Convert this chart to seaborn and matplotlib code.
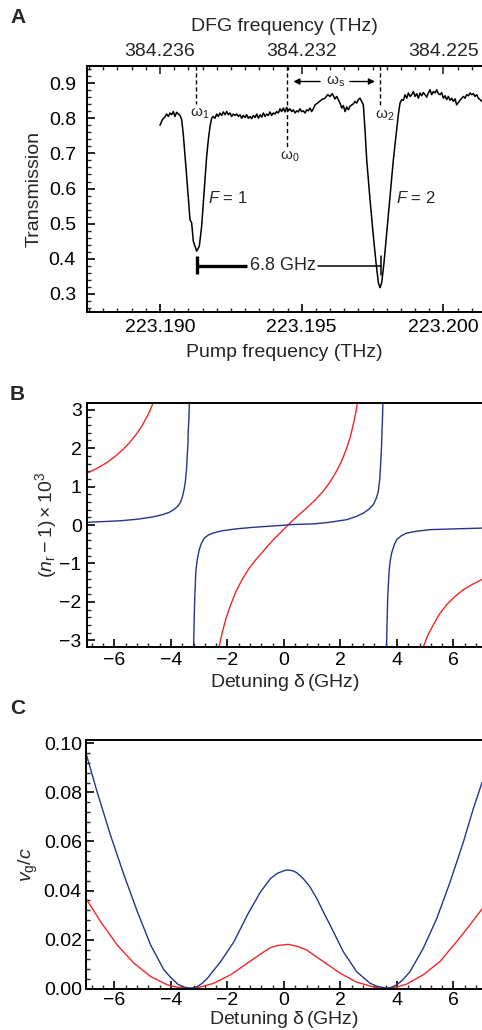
import numpy as np
import pandas as pd
import seaborn as sns
import matplotlib
matplotlib.use("Agg")
import matplotlib.pyplot as plt
from matplotlib.ticker import MultipleLocator, FormatStrFormatter

# %% data
# panel A: pump offset from 223.190 THz (GHz) and measured transmission
pump_offset_ghz = [
    0.000, 0.082, 0.153, 0.235, 0.294, 0.353, 0.412, 0.471, 0.529, 0.588,
    0.647, 0.706, 0.765, 0.823, 0.941, 1.059, 1.117, 1.176, 1.235, 1.294,
    1.388, 1.470, 1.529, 1.588, 1.647, 1.706, 1.765, 1.823, 1.880, 1.941,
    2.000, 2.058, 2.117, 2.176, 2.235, 2.294, 2.353, 2.412, 2.470, 2.530,
    2.588, 2.647, 2.706, 2.765, 2.823, 2.882, 2.941, 3.000, 3.058, 3.117,
    3.176, 3.235, 3.294, 3.353, 3.412, 3.470, 3.530, 3.588, 3.647, 3.706,
    3.765, 3.823, 3.882, 3.941, 4.000, 4.058, 4.117, 4.176, 4.235, 4.294,
    4.353, 4.412, 4.470, 4.530, 4.588, 4.647, 4.706, 4.765, 4.823, 4.882,
    4.941, 5.000, 5.058, 5.117, 5.176, 5.235, 5.294, 5.353, 5.412, 5.470,
    5.588, 5.706, 5.823, 5.917, 5.999, 6.080, 6.176, 6.235, 6.294, 6.353,
    6.412, 6.470, 6.530, 6.588, 6.647, 6.706, 6.765, 6.823, 6.882, 6.941,
    7.000, 7.058, 7.117, 7.176, 7.235, 7.294, 7.412, 7.530, 7.623, 7.706,
    7.765, 7.823, 7.905, 8.000, 8.117, 8.235, 8.353, 8.410, 8.470, 8.530,
    8.588, 8.647, 8.706, 8.765, 8.823, 8.882, 8.941, 9.000, 9.058, 9.117,
    9.176, 9.235, 9.294, 9.353, 9.412, 9.470, 9.530, 9.588, 9.647, 9.706,
    9.765, 9.823, 9.882, 9.941, 10.000, 10.058, 10.117, 10.176, 10.235, 10.294,
    10.353, 10.412, 10.470, 10.530, 10.588, 10.647, 10.706, 10.765, 10.823, 10.882,
    10.941, 11.000, 11.058, 11.117, 11.176, 11.235, 11.294, 11.360,
]
transmission = [
    0.780, 0.796, 0.802, 0.812, 0.805, 0.815, 0.810, 0.819, 0.805, 0.817,
    0.812, 0.808, 0.796, 0.753, 0.635, 0.512, 0.502, 0.450, 0.436, 0.422,
    0.436, 0.493, 0.559, 0.625, 0.692, 0.739, 0.777, 0.800, 0.805, 0.800,
    0.812, 0.805, 0.815, 0.808, 0.818, 0.810, 0.819, 0.810, 0.815, 0.805,
    0.812, 0.808, 0.812, 0.805, 0.810, 0.800, 0.808, 0.802, 0.810, 0.800,
    0.805, 0.799, 0.808, 0.802, 0.812, 0.800, 0.810, 0.803, 0.815, 0.805,
    0.812, 0.808, 0.818, 0.808, 0.815, 0.812, 0.819, 0.815, 0.827, 0.819,
    0.829, 0.818, 0.831, 0.821, 0.827, 0.819, 0.824, 0.815, 0.821, 0.818,
    0.827, 0.819, 0.821, 0.815, 0.824, 0.821, 0.829, 0.819, 0.827, 0.838,
    0.845, 0.853, 0.857, 0.867, 0.862, 0.870, 0.855, 0.862, 0.853, 0.843,
    0.829, 0.836, 0.819, 0.832, 0.824, 0.834, 0.838, 0.841, 0.848, 0.843,
    0.853, 0.857, 0.848, 0.838, 0.767, 0.682, 0.568, 0.464, 0.389, 0.332,
    0.318, 0.332, 0.389, 0.474, 0.578, 0.682, 0.767, 0.810, 0.843, 0.853,
    0.851, 0.867, 0.857, 0.872, 0.862, 0.867, 0.876, 0.862, 0.870, 0.857,
    0.872, 0.864, 0.873, 0.867, 0.860, 0.872, 0.881, 0.867, 0.876, 0.872,
    0.881, 0.870, 0.867, 0.873, 0.857, 0.864, 0.853, 0.862, 0.851, 0.857,
    0.848, 0.855, 0.838, 0.845, 0.851, 0.857, 0.862, 0.857, 0.867, 0.864,
    0.872, 0.867, 0.870, 0.862, 0.867, 0.857, 0.853, 0.848,
]
pump_ticks_thz = [223.190, 223.195, 223.200]
dfg_tick_labels = ["384.236", "384.232", "384.225"]
omega1_ghz, omega0_ghz, omega2_ghz = 1.27, 4.47, 7.765

# panel B: (n_r - 1) x 10^3 vs detuning (GHz), one list per branch
blue_n_x1 = [-6.97, -6.40, -5.83, -5.20, -4.65, -4.30, -4.06, -3.90, -3.76, -3.66,
             -3.59, -3.53, -3.49, -3.45, -3.43, -3.40, -3.39, -3.365, -3.35]
blue_n_y1 = [0.07, 0.09, 0.11, 0.15, 0.21, 0.27, 0.33, 0.40, 0.49, 0.60,
             0.75, 0.95, 1.14, 1.45, 1.74, 2.10, 2.44, 2.80, 3.18]
blue_n_x2 = [-3.20, -3.18, -3.16, -3.12, -3.07, -3.00, -2.92, -2.82, -2.68, -2.52,
             -2.20, -1.70, -1.10, -0.52, 0.00, 0.21, 0.60, 1.04, 1.60, 2.22,
             2.55, 2.81, 3.00, 3.16, 3.27, 3.34, 3.39, 3.42, 3.45, 3.47, 3.49, 3.50]
blue_n_y2 = [-3.17, -2.50, -1.90, -1.20, -0.90, -0.64, -0.47, -0.34, -0.26, -0.21,
             -0.15, -0.10, -0.06, -0.03, -0.005, 0.01, 0.02, 0.03, 0.07, 0.14,
             0.22, 0.31, 0.41, 0.53, 0.70, 0.88, 1.20, 1.57, 2.00, 2.44, 2.85, 3.18]
blue_n_x3 = [3.63, 3.65, 3.67, 3.72, 3.76, 3.81, 3.90, 3.99, 4.15, 4.34, 4.70, 5.17, 6.00, 7.00]
blue_n_y3 = [-3.17, -2.50, -1.90, -1.20, -0.93, -0.73, -0.52, -0.38, -0.28, -0.21, -0.16, -0.12, -0.10, -0.08]

red_n_x1 = [-6.97, -6.63, -6.30, -6.00, -5.71, -5.47, -5.24, -5.05, -4.88, -4.76, -4.63]
red_n_y1 = [1.35, 1.47, 1.61, 1.77, 1.96, 2.14, 2.35, 2.55, 2.78, 2.95, 3.18]
red_n_x2 = [-2.30, -2.18, -2.05, -1.88, -1.70, -1.47, -1.23, -0.94, -0.64, -0.40, -0.17,
            0.14, 0.50, 0.80, 1.10, 1.39, 1.63, 1.86, 2.05, 2.22, 2.35, 2.45, 2.53, 2.60]
red_n_y2 = [-3.17, -2.78, -2.42, -2.06, -1.73, -1.40, -1.12, -0.85, -0.60, -0.40, -0.23,
            0.00, 0.25, 0.44, 0.65, 0.88, 1.12, 1.40, 1.68, 2.00, 2.30, 2.61, 2.88, 3.18]
red_n_x3 = [4.93, 5.10, 5.29, 5.50, 5.76, 6.05, 6.35, 6.70, 7.00]
red_n_y3 = [-3.17, -2.85, -2.59, -2.32, -2.07, -1.86, -1.68, -1.53, -1.42]

# panel C: group velocity v_g/c vs detuning (GHz)
blue_vg_x = [-7.01, -6.61, -6.14, -5.66, -5.19, -4.72, -4.25, -4.00, -3.75, -3.54,
             -3.36, -3.20, -3.07, -2.90, -2.71, -2.24, -1.77, -1.30, -0.83, -0.47,
             -0.24, 0.00, 0.12, 0.30, 0.45, 0.68, 0.92, 1.16, 1.39, 1.63,
             2.10, 2.57, 3.04, 3.30, 3.52, 3.62, 3.80, 3.99, 4.20, 4.46,
             4.93, 5.41, 5.88, 6.35, 6.70, 7.01]
blue_vg_y = [0.0960, 0.0800, 0.0625, 0.0462, 0.0314, 0.0178, 0.0077, 0.0045, 0.0018, 0.0007,
             0.0003, 0.0004, 0.0009, 0.0022, 0.0043, 0.0111, 0.0192, 0.0300, 0.0395, 0.0450,
             0.0470, 0.0481, 0.0484, 0.0481, 0.0473, 0.0449, 0.0415, 0.0368, 0.0314, 0.0260,
             0.0151, 0.0070, 0.0023, 0.0010, 0.0005, 0.0002, 0.0006, 0.0016, 0.0036, 0.0070,
             0.0165, 0.0287, 0.0435, 0.0598, 0.0733, 0.0840]
red_vg_x = [-7.01, -6.49, -5.90, -5.31, -4.72, -4.13, -3.80, -3.54, -3.27, -3.07,
            -2.80, -2.48, -1.89, -1.30, -0.71, -0.47, -0.24, 0.15, 0.50, 0.80,
            1.39, 1.98, 2.57, 3.16, 3.40, 3.57, 3.75, 4.05, 4.34, 4.93,
            5.52, 6.11, 6.58, 7.01]
red_vg_y = [0.0368, 0.0273, 0.0178, 0.0104, 0.0050, 0.0016, 0.0007, 0.0003, 0.0001, 0.0005,
            0.0012, 0.0023, 0.0057, 0.0104, 0.0151, 0.0168, 0.0176, 0.0181, 0.0172, 0.0158,
            0.0111, 0.0064, 0.0027, 0.0008, 0.0003, 0.0002, 0.0003, 0.0009, 0.0019, 0.0057,
            0.0111, 0.0192, 0.0260, 0.0325]

# %% style
sns.set_theme(style="ticks")
plt.rcParams["font.family"] = ["Liberation Sans", "DejaVu Sans"]
plt.rcParams["mathtext.fontset"] = "custom"
plt.rcParams["mathtext.rm"] = "Liberation Sans"
plt.rcParams["mathtext.it"] = "Liberation Sans:italic"
plt.rcParams["mathtext.bf"] = "Liberation Sans:bold"
plt.rcParams["axes.linewidth"] = 1.4
plt.rcParams["axes.edgecolor"] = "black"

BLUE = "#27348b"
RED = "#f2262a"
FS = 14


def style_axis(ax, pad=3.5):
    ax.spines["right"].set_visible(False)
    ax.tick_params(which="major", direction="in", length=6, width=1.2, labelsize=FS,
                   pad=pad, colors="black", top=False, right=False)
    ax.tick_params(which="minor", direction="in", length=3, width=1.0,
                   top=False, right=False)
    ax.grid(False)


def branches(pairs):
    frames = []
    for i, (xs, ys) in enumerate(pairs):
        frames.append(pd.DataFrame({"detuning": xs, "value": ys, "branch": i}))
    return pd.concat(frames, ignore_index=True)


fig = plt.figure(figsize=(4.82, 10.30), dpi=100)

# %% panel A
axA = fig.add_axes([0.1805, 0.6974, 0.8195, 0.2385])
pump_thz = 223.190 + np.array(pump_offset_ghz) / 1000.0
sns.lineplot(x=pump_thz, y=transmission, ax=axA, color="black", lw=1.1, sort=False)
axA.set_xlim(223.187424, 223.201363)
axA.set_ylim(0.2497, 0.9486)
axA.set_xticks(pump_ticks_thz)
axA.xaxis.set_major_formatter(FormatStrFormatter("%.3f"))
axA.xaxis.set_minor_locator(MultipleLocator(0.0005))
axA.yaxis.set_major_locator(MultipleLocator(0.1))
axA.yaxis.set_minor_locator(MultipleLocator(0.02))
style_axis(axA, pad=5)
axA.tick_params(axis="y", pad=8)
axA.set_xlabel("Pump frequency (THz)", fontsize=FS, labelpad=6)
axA.set_ylabel("Transmission", fontsize=FS, labelpad=4)

top = axA.secondary_xaxis("top")
top.set_xticks(pump_ticks_thz, labels=dfg_tick_labels)
top.xaxis.set_minor_locator(MultipleLocator(0.0005))
top.tick_params(which="major", direction="in", length=6, width=1.2, labelsize=FS, pad=4)
top.tick_params(which="minor", direction="in", length=3, width=1.0)
top.set_xlabel("DFG frequency (THz)", fontsize=FS, labelpad=9)


def ghz(g):
    return 223.190 + g / 1000.0


dash = dict(color="black", lw=1.0, ls=(0, (3, 2)))
axA.plot([ghz(omega1_ghz)] * 2, [0.9486, 0.840], **dash)
axA.plot([ghz(omega0_ghz)] * 2, [0.9486, 0.715], **dash)
axA.plot([ghz(omega2_ghz)] * 2, [0.9486, 0.833], **dash)
axA.text(ghz(omega1_ghz + 0.12), 0.812, r"$\mathrm{\omega}_1$", fontsize=11, ha="center", va="center")
axA.text(ghz(omega0_ghz + 0.12), 0.689, r"$\mathrm{\omega}_0$", fontsize=11, ha="center", va="center")
axA.text(ghz(omega2_ghz + 0.15), 0.806, r"$\mathrm{\omega}_2$", fontsize=11, ha="center", va="center")

arrow = dict(arrowstyle="-|>", color="black", lw=1.0, mutation_scale=9,
             shrinkA=0, shrinkB=0)
axA.annotate("", xy=(ghz(4.705), 0.9045), xytext=(ghz(5.65), 0.9045), arrowprops=arrow)
axA.annotate("", xy=(ghz(7.587), 0.9045), xytext=(ghz(6.70), 0.9045), arrowprops=arrow)
axA.text(ghz(6.18), 0.9045, r"$\mathrm{\omega}_\mathrm{s}$", fontsize=11, ha="center", va="center")

axA.text(ghz(1.69), 0.574, r"$F$ = 1", fontsize=12, ha="left", va="center")
axA.text(ghz(8.33), 0.574, r"$F$ = 2", fontsize=12, ha="left", va="center")

axA.plot([ghz(1.294)] * 2, [0.356, 0.407], color="black", lw=2.4, solid_capstyle="butt")
axA.plot([ghz(1.294), ghz(3.06)], [0.381, 0.381], color="black", lw=2.4, solid_capstyle="butt")
axA.text(ghz(4.35), 0.381, "6.8 GHz", fontsize=13, ha="center", va="center")
axA.plot([ghz(5.59), ghz(7.79)], [0.381, 0.381], color="black", lw=1.1)
axA.plot([ghz(7.79)] * 2, [0.353, 0.409], color="black", lw=1.1)

# %% panel B
axB = fig.add_axes([0.1811, 0.3721, 0.8189, 0.2369])
n_blue = branches([(blue_n_x1, blue_n_y1), (blue_n_x2, blue_n_y2), (blue_n_x3, blue_n_y3)])
n_red = branches([(red_n_x1, red_n_y1), (red_n_x2, red_n_y2), (red_n_x3, red_n_y3)])
sns.lineplot(data=n_red, x="detuning", y="value", units="branch", estimator=None,
             sort=False, color=RED, lw=1.0, ax=axB)
sns.lineplot(data=n_blue, x="detuning", y="value", units="branch", estimator=None,
             sort=False, color=BLUE, lw=1.0, ax=axB)
axB.set_xlim(-6.963, 7.009)
axB.set_ylim(-3.165, 3.181)
axB.xaxis.set_major_locator(MultipleLocator(2))
axB.xaxis.set_minor_locator(MultipleLocator(0.4))
axB.yaxis.set_major_locator(MultipleLocator(1))
axB.yaxis.set_minor_locator(MultipleLocator(0.2))
style_axis(axB, pad=4)
axB.set_xlabel(r"Detuning $\mathrm{\delta}\,$(GHz)", fontsize=FS, labelpad=2)
axB.set_ylabel(r"$(n_\mathrm{r}-1)\times10^3$", fontsize=FS, labelpad=0)

# %% panel C
axC = fig.add_axes([0.1784, 0.0400, 0.8216, 0.2415])
sns.lineplot(x=red_vg_x, y=red_vg_y, ax=axC, color=RED, lw=1.0, sort=False)
sns.lineplot(x=blue_vg_x, y=blue_vg_y, ax=axC, color=BLUE, lw=1.0, sort=False)
axC.set_xlim(-7.009, 7.009)
axC.set_ylim(0, 0.1013)
axC.xaxis.set_major_locator(MultipleLocator(2))
axC.xaxis.set_minor_locator(MultipleLocator(0.4))
axC.yaxis.set_major_locator(MultipleLocator(0.02))
axC.yaxis.set_minor_locator(MultipleLocator(0.004))
axC.yaxis.set_major_formatter(FormatStrFormatter("%.2f"))
style_axis(axC, pad=3)
axC.tick_params(axis="x", pad=2)
axC.set_xlabel(r"Detuning $\mathrm{\delta}\,$(GHz)", fontsize=FS, labelpad=0.5)
axC.set_ylabel(r"$v_\mathrm{g}/c$", fontsize=FS, labelpad=3)

# panel letters
for label, y in [("A", 0.983), ("B", 0.617), ("C", 0.312)]:
    fig.text(0.021, y, label, fontsize=15, fontweight="bold", ha="left", va="center")

fig.savefig("out.png", dpi=100)
